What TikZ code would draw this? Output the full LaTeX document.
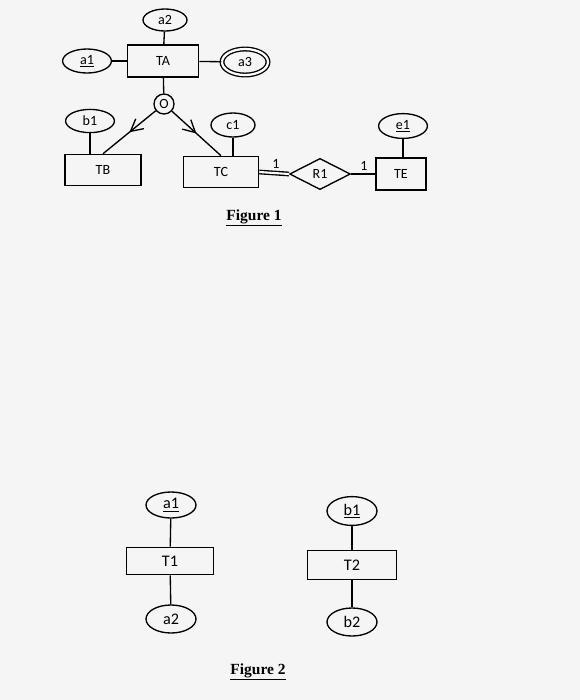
\documentclass[tikz,border=0pt]{standalone}
\usepackage{fontspec}
\setmainfont{Carlito}
\newfontfamily\figfont{Liberation Serif}
\usetikzlibrary{positioning,arrows.meta,shapes.geometric,calc,decorations.markings}

\tikzset{
  ent/.style={draw, rectangle, inner sep=1pt},
  attr/.style={draw, ellipse, inner sep=0pt},
  rel/.style={draw, diamond, aspect=2, inner sep=0pt},
  isa/.style={postaction={decorate}, decoration={markings,
      mark=at position 0.5 with {\arrow{Straight Barb[length=3mm,width=3.2mm]}}}},
  figlabel/.style={font=\figfont\bfseries\fontsize{11}{13}\selectfont}
}

\begin{document}
\begin{tikzpicture}[x=0.025cm, y=-0.025cm, line width=0.95pt,
    font=\fontsize{10}{12}\selectfont]
  \fill[black!4] (0,0) rectangle (580,700);
  \useasboundingbox (0,0) rectangle (580,700);
  % Figure 1
  \node[ent, minimum width=1.78cm, minimum height=0.8cm] (ta) at (163,61) {TA};
  \node[attr, minimum width=1.1cm, minimum height=0.55cm] (a2) at (165,20) {a2};
  \node[attr, minimum width=1.22cm, minimum height=0.6cm] (a1) at (87,61) {\underline{a1}};
  \node[attr, double, double distance=1.6pt, minimum width=1.15cm, minimum height=0.65cm] (a3) at (245,62) {a3};
  \node[draw, circle, inner sep=0pt, minimum size=0.5cm] (o) at (164,104) {O};
  \node[ent, minimum width=1.9cm, minimum height=0.78cm] (tb) at (103,170) {TB};
  \node[attr, minimum width=1.22cm, minimum height=0.58cm] (b1) at (90,121) {b1};
  \node[ent, minimum width=1.88cm, minimum height=0.78cm] (tc) at (221,172) {TC};
  \node[attr, minimum width=1.1cm, minimum height=0.6cm] (c1) at (233,125) {c1};
  \node[rel, minimum width=1.52cm, minimum height=0.78cm] (r1) at (320,174) {R1};
  \node[ent, minimum width=1.25cm, minimum height=0.8cm] (te) at (401,174) {TE};
  \node[attr, minimum width=1.22cm, minimum height=0.62cm] (e1) at (403,126) {\underline{e1}};
  \node (card1) at (276,164) {1};
  \node (card2) at (364,166) {1};
  \node[figlabel] (fig1) at (254,218) {\underline{Figure 1}};
  \draw (a2) -- (ta);
  \draw (a1) -- (ta);
  \draw (ta) -- (a3);
  \draw (ta) -- (o);
  \draw[isa] (o) -- (tb.north);
  \draw[isa] (o) -- (tc.north);
  \draw (b1) -- (b1 |- tb.north);
  \draw (c1) -- (c1 |- tc.north);
  \draw (e1) -- (e1 |- te.north);
  \draw[double, double distance=1.5pt] (tc.east) -- (r1.west);
  \draw (r1.east) -- (te.west);
  % Figure 2
  \begin{scope}[font=\fontsize{11.5}{13}\selectfont]
    \node[ent, minimum width=2.18cm, minimum height=0.68cm] (t1) at (170,561) {T1};
    \node[attr, minimum width=1.25cm, minimum height=0.65cm] (t1a1) at (171,505) {\underline{a1}};
    \node[attr, minimum width=1.25cm, minimum height=0.7cm] (t1a2) at (171,619) {a2};
    \node[ent, minimum width=2.22cm, minimum height=0.72cm] (t2) at (352,565) {T2};
    \node[attr, minimum width=1.25cm, minimum height=0.72cm] (t2b1) at (352,511) {\underline{b1}};
    \node[attr, minimum width=1.25cm, minimum height=0.7cm] (t2b2) at (352,622) {b2};
  \end{scope}
  \node[figlabel] (fig2) at (258,672) {\underline{Figure 2}};
  \draw (t1a1) -- (t1);
  \draw (t1) -- (t1a2);
  \draw (t2b1) -- (t2);
  \draw (t2) -- (t2b2);
\end{tikzpicture}
\end{document}
